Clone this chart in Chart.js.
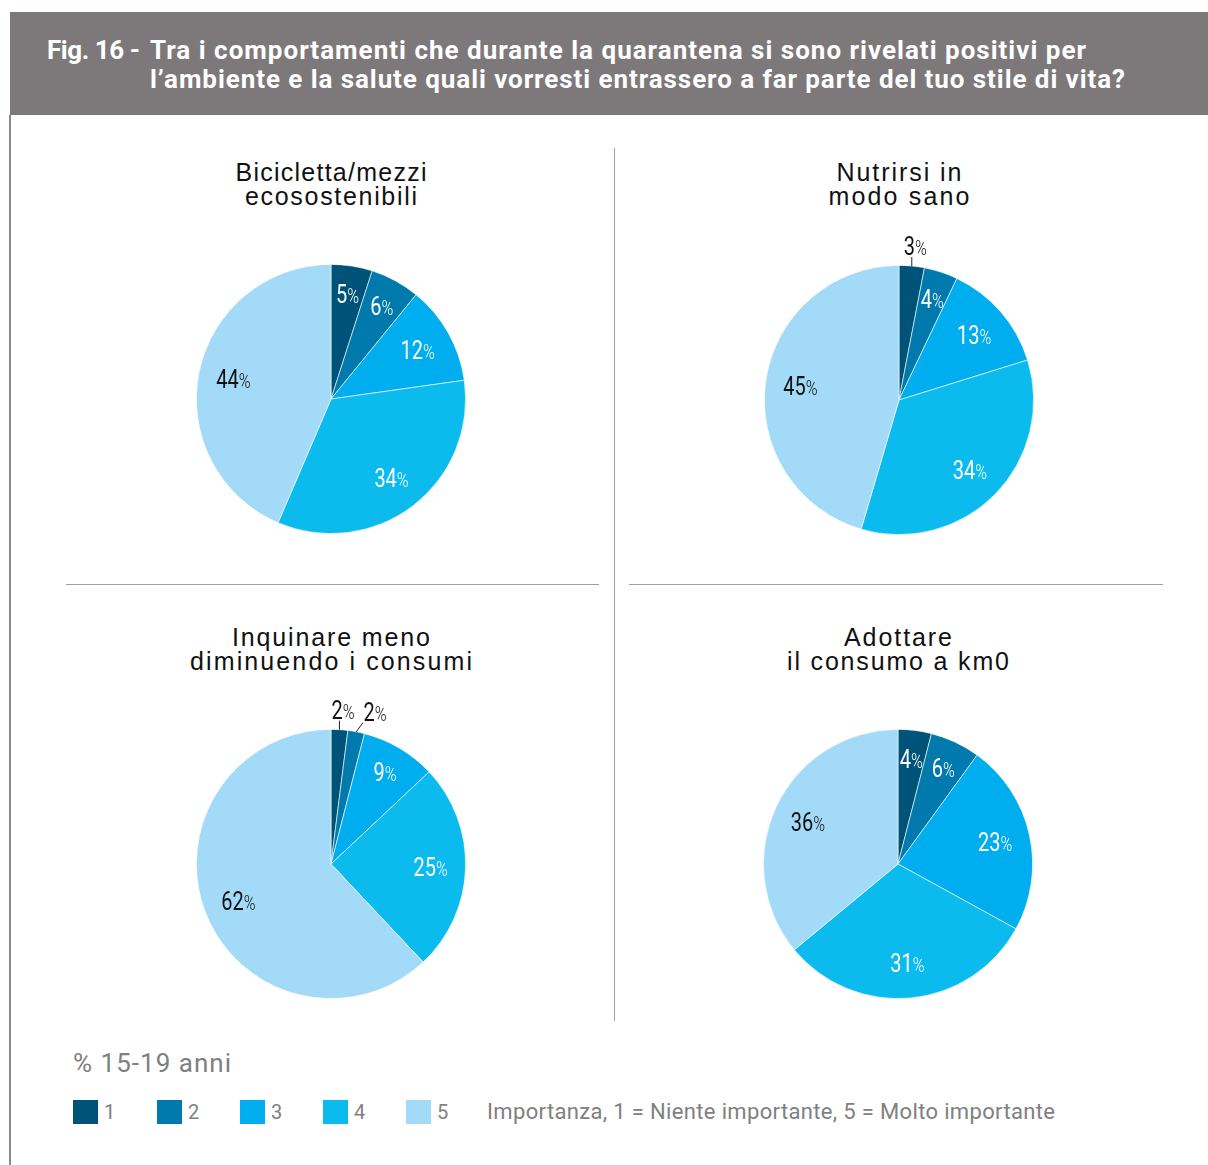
<!DOCTYPE html>
<html>
<head>
<meta charset="utf-8">
<script src="https://cdn.jsdelivr.net/npm/chart.js@4.4.1/dist/chart.umd.min.js"></script>
<style>
  body { margin: 0; width: 1208px; height: 1165px; position: relative; background: #fff; overflow: hidden;
         font-family: "Liberation Sans", Arial, sans-serif; }
  #header { position: absolute; left: 10px; top: 12px; width: 1198px; height: 103px; background: #7d797a; }
  #header .t { position: absolute; color: #fff; font-family: Roboto, sans-serif; font-weight: 700; font-size: 26px;
               line-height: 28px; white-space: nowrap; }
  .frame { position: absolute; background: #8a8a8a; }
  .rule { position: absolute; background: #a0a0a0; }
  .tl { position: absolute; font-size: 25px; line-height: 24px; color: #111; white-space: nowrap; }
  .pie { position: absolute; width: 330px; height: 330px; }
  #note { position: absolute; left: 73px; top: 1049px; font-family: Roboto, sans-serif; font-size: 26px; line-height: 28px;
          color: #7f7f7f; white-space: nowrap; }
  #legend { position: absolute; left: 73px; top: 1099px; height: 26px; font-family: Roboto, sans-serif; font-size: 20px; color: #808080; }
  #legend .item { position: absolute; top: 0; white-space: nowrap; }
  #legend .sw { position: absolute; top: 1px; width: 25px; height: 24px; }
  #legend .lb { position: absolute; top: 1px; left: 31px; line-height: 24px; }
  #legend .txt { position: absolute; left: 414px; top: 1px; line-height: 24px; white-space: nowrap; font-size: 22px; }
</style>
</head>
<body>
<div id="header">
  <div class="t" id="h0" style="left:37px; top:24px;">Fig. 16 -</div>
  <div class="t" id="h1" style="left:140px; top:24px;">Tra i comportamenti che durante la quarantena si sono rivelati positivi per</div>
  <div class="t" id="h2" style="left:140px; top:53px;">l’ambiente e la salute quali vorresti entrassero a far parte del tuo stile di vita?</div>
</div>
<div class="frame" style="left:9px; top:115px; width:2px; height:1050px;"></div>
<div class="rule" style="left:614px; top:148px; width:1px; height:873px;"></div>
<div class="rule" style="left:66px; top:584px; width:533px; height:1px;"></div>
<div class="rule" style="left:629px; top:584px; width:534px; height:1px;"></div>
<div id="charts"></div>
<div id="note">% 15-19 anni</div>
<div id="legend"></div>

<script>
// categories = importance levels 1..5
const categories = ['1', '2', '3', '4', '5'];
const colors = ['#005378', '#0079ad', '#00adee', '#0cbbee', '#a3daf7'];

const titles = [
  ['Bicicletta/mezzi', 'ecosostenibili'],
  ['Nutrirsi in', 'modo sano'],
  ['Inquinare meno', 'diminuendo i consumi'],
  ['Adottare', 'il consumo a km0']
];

const bicicletta = [5, 6, 12, 34, 44];
const nutrirsi = [3, 4, 13, 34, 45];
const inquinare = [2, 2, 9, 25, 62];
const km0 = [4, 6, 23, 31, 36];

const legendNote = 'Importanza, 1 = Niente importante, 5 = Molto importante';

// layout
const centres = [[331, 399], [899, 400], [331, 864], [898, 864]];
const titleTops = [160, 160, 625, 625];
const titleWidths = [[191, 172], [125, 141], [198, 282], [108, 222]];

// spread letters so a line spans the wanted width
function fit(el, w) {
  el.style.letterSpacing = '0px';
  const nat = el.getBoundingClientRect().width;
  const n = el.textContent.length;
  el.style.letterSpacing = ((w - nat) / Math.max(n - 1, 1)) + 'px';
}

function drawPct(ctx, x, y, v, color) {
  ctx.save();
  ctx.translate(x, y);
  ctx.scale(0.8, 1);
  ctx.fillStyle = color;
  ctx.textBaseline = 'alphabetic';
  ctx.textAlign = 'left';
  ctx.font = '400 25px Roboto';
  const n = String(v);
  const wn = ctx.measureText(n).width;
  ctx.font = '300 20px Roboto';
  const wp = ctx.measureText('%').width;
  const left = -(wn + wp) / 2;
  ctx.font = '400 25px Roboto';
  ctx.fillText(n, left, 9);
  ctx.font = '300 20px Roboto';
  ctx.fillText('%', left + wn, 9);
  ctx.restore();
}

const sliceLabels = {
  id: 'sliceLabels',
  afterDatasetsDraw(chart) {
    const ctx = chart.ctx;
    const vals = chart.data.datasets[0].data;
    const meta = chart.getDatasetMeta(0);
    let lastOut = -Infinity;
    meta.data.forEach((arc, i) => {
      const p = arc.getProps(['x', 'y', 'startAngle', 'endAngle', 'outerRadius'], true);
      const mid = (p.startAngle + p.endAngle) / 2;
      const v = vals[i];
      if (v <= 3) {
        const ex = p.x + Math.cos(mid) * p.outerRadius;
        const ey = p.y + Math.sin(mid) * p.outerRadius;
        let lx = ex + 3.5;
        let endX = ex;
        if (lx < lastOut + 32) { lx = lastOut + 32; endX = lx - 12; }
        lastOut = lx;
        ctx.save();
        ctx.strokeStyle = '#222';
        ctx.lineWidth = 1;
        ctx.beginPath();
        ctx.moveTo(ex, ey);
        ctx.lineTo(endX, ey - 9);
        ctx.stroke();
        ctx.restore();
        drawPct(ctx, lx, ey - 20, v, '#111');
      } else {
        const r = p.outerRadius * (v < 10 ? 0.79 : 0.74);
        const col = i === vals.length - 1 ? '#111' : '#fff';
        drawPct(ctx, p.x + Math.cos(mid) * r, p.y + Math.sin(mid) * r, v, col);
      }
    });
  }
};

const series = [bicicletta, nutrirsi, inquinare, km0];
const holder = document.getElementById('charts');

series.forEach((vals, k) => {
  const [cx, cy] = centres[k];
  titles[k].forEach((line, j) => {
    const t = document.createElement('div');
    t.className = 'tl';
    t.textContent = line;
    document.body.appendChild(t);
    fit(t, titleWidths[k][j]);
    t.style.left = (cx - titleWidths[k][j] / 2) + 'px';
    t.style.top = (titleTops[k] + j * 24) + 'px';
  });

  const box = document.createElement('div');
  box.className = 'pie';
  box.style.left = (cx - 165) + 'px';
  box.style.top = (cy - 165) + 'px';
  const cv = document.createElement('canvas');
  box.appendChild(cv);
  holder.appendChild(box);

  new Chart(cv, {
    type: 'pie',
    data: {
      labels: categories,
      datasets: [{
        data: vals,
        backgroundColor: colors,
        borderColor: 'rgba(255,255,255,0.75)',
        borderWidth: 0.8
      }]
    },
    options: {
      responsive: true,
      maintainAspectRatio: false,
      animation: false,
      events: [],
      layout: { padding: 30 },
      plugins: { legend: { display: false }, tooltip: { enabled: false } }
    },
    plugins: [sliceLabels]
  });
});

// legend
const legendOffsets = [0, 84, 167, 250, 333];
const lg = document.getElementById('legend');
categories.forEach((c, i) => {
  const it = document.createElement('div');
  it.className = 'item';
  it.style.left = legendOffsets[i] + 'px';
  it.innerHTML = '<div class="sw" style="background:' + colors[i] + '"></div><div class="lb">' + c + '</div>';
  lg.appendChild(it);
});
const lt = document.createElement('div');
lt.className = 'txt';
lt.textContent = legendNote;
lg.appendChild(lt);

fit(document.getElementById('h0'), 93);
fit(document.getElementById('h1'), 936);
fit(document.getElementById('h2'), 975);
fit(document.getElementById('note'), 158);
fit(lt, 568);
</script>
</body>
</html>
